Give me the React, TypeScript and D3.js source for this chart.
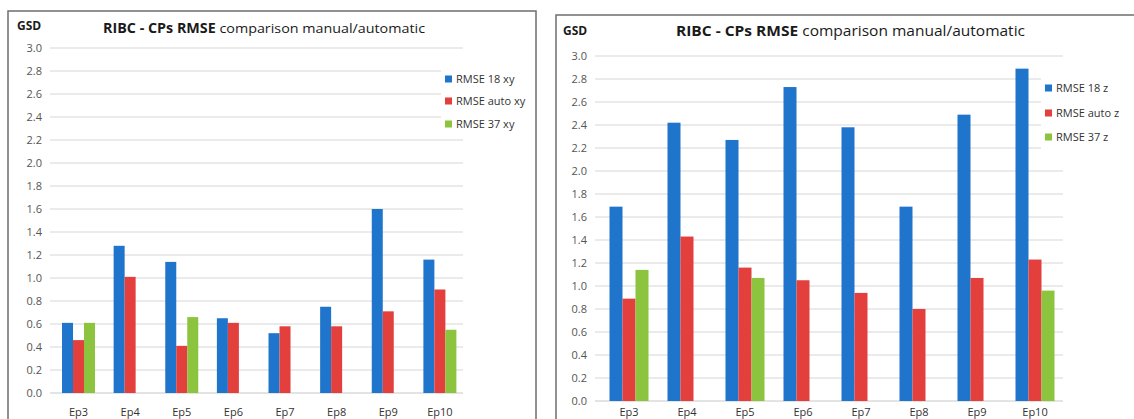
import React from "react";
import * as d3 from "d3";

const categories = ["Ep3", "Ep4", "Ep5", "Ep6", "Ep7", "Ep8", "Ep9", "Ep10"];
const yTicks = [0, 0.2, 0.4, 0.6, 0.8, 1.0, 1.2, 1.4, 1.6, 1.8, 2.0, 2.2, 2.4, 2.6, 2.8, 3.0];

// Left chart (xy)
const rmse18xy = [0.61, 1.28, 1.14, 0.65, 0.52, 0.75, 1.6, 1.16];
const rmseAutoXy = [0.46, 1.01, 0.41, 0.61, 0.58, 0.58, 0.71, 0.9];
const rmse37xy = [0.61, 0, 0.66, 0, 0, 0, 0, 0.55];
const legendXy = ["RMSE 18 xy", "RMSE auto xy", "RMSE 37 xy"];

// Right chart (z)
const rmse18z = [1.69, 2.42, 2.27, 2.73, 2.38, 1.69, 2.49, 2.89];
const rmseAutoZ = [0.89, 1.43, 1.16, 1.05, 0.94, 0.8, 1.07, 1.23];
const rmse37z = [1.14, 0, 1.07, 0, 0, 0, 0, 0.96];
const legendZ = ["RMSE 18 z", "RMSE auto z", "RMSE 37 z"];

const colors = ["#1f74cc", "#e23f3d", "#8cc43f"];
const FONT = "'Open Sans', 'Liberation Sans', sans-serif";

type ChartProps = {
  frame: { x: number; y: number; w: number; h: number };
  gsd: { x: number; y: number };
  title: { x: number; y: number; w: number; size: number };
  plot: { gx0: number; gx1: number; bx0: number; bx1: number; yTop: number; yBottom: number };
  barW: number;
  series: number[][];
  legend: string[];
  legendPos: { x: number; ys: number[] };
  labelY: number;
};

function Chart(p: ChartProps) {
  const x = d3.scaleBand<string>().domain(categories).range([p.plot.bx0, p.plot.bx1]);
  const y = d3.scaleLinear().domain([0, 3]).range([p.plot.yBottom, p.plot.yTop]);
  const groupW = p.barW * p.series.length;
  return (
    <g>
      <rect x={p.frame.x} y={p.frame.y} width={p.frame.w} height={p.frame.h} fill="#fff" stroke="#6e6e6e" strokeWidth={1.5} />
      <text x={p.gsd.x} y={p.gsd.y} fontFamily={FONT} fontWeight="bold" fontSize={12} fill="#1a1a1a">GSD</text>
      <text x={p.title.x} y={p.title.y} fontFamily={FONT} fontSize={p.title.size} fill="#1a1a1a" textLength={p.title.w} lengthAdjust="spacingAndGlyphs">
        <tspan fontWeight="bold">RIBC - CPs RMSE</tspan>
        <tspan> comparison manual/automatic</tspan>
      </text>
      {yTicks.map((t) => (
        <g key={t}>
          <line x1={p.plot.gx0} x2={p.plot.gx1} y1={y(t)} y2={y(t)} stroke={t === 0 ? "#c8c8c8" : "#d6d6d6"} strokeWidth={1} />
          <text x={p.plot.gx0 - 8} y={y(t)} dy="0.35em" textAnchor="end" fontFamily={FONT} fontSize={11} fill="#555">
            {d3.format(".1f")(t)}
          </text>
        </g>
      ))}
      {categories.map((c, i) => {
        const cx = (x(c) as number) + x.bandwidth() / 2;
        return (
          <g key={c}>
            {p.series.map((s, k) =>
              s[i] > 0 ? (
                <rect key={k} x={cx - groupW / 2 + k * p.barW} y={y(s[i])} width={p.barW} height={y(0) - y(s[i])} fill={colors[k]} />
              ) : null
            )}
            <text x={cx} y={p.labelY} textAnchor="middle" fontFamily={FONT} fontSize={11} fill="#333">{c}</text>
          </g>
        );
      })}
      <rect x={p.legendPos.x - 4} y={p.legendPos.ys[0] - 12} width={90} height={p.legendPos.ys[2] - p.legendPos.ys[0] + 24} fill="#fff" />
      {p.legend.map((l, k) => (
        <g key={l}>
          <rect x={p.legendPos.x} y={p.legendPos.ys[k] - 3.5} width={7} height={7} fill={colors[k]} />
          <text x={p.legendPos.x + 11} y={p.legendPos.ys[k]} dy="0.35em" fontFamily={FONT} fontSize={11} fill="#333">{l}</text>
        </g>
      ))}
    </g>
  );
}

export default function App() {
  return (
    <svg width={1134} height={419} style={{ position: "absolute", left: 0, top: 0, background: "#fff" }}>
      <Chart
        frame={{ x: 8, y: 11, w: 528, h: 420 }}
        gsd={{ x: 17, y: 30 }}
        title={{ x: 103, y: 33, w: 322, size: 13.5 }}
        plot={{ gx0: 50, gx1: 463, bx0: 52.7, bx1: 465.7, yTop: 48, yBottom: 393 }}
        barW={11}
        series={[rmse18xy, rmseAutoXy, rmse37xy]}
        legend={legendXy}
        legendPos={{ x: 445, ys: [79, 101, 124] }}
        labelY={416}
      />
      <Chart
        frame={{ x: 556, y: 15, w: 600, h: 420 }}
        gsd={{ x: 563, y: 35 }}
        title={{ x: 676, y: 36, w: 349, size: 14.5 }}
        plot={{ gx0: 595, gx1: 1063, bx0: 600, bx1: 1064, yTop: 56, yBottom: 401 }}
        barW={13}
        series={[rmse18z, rmseAutoZ, rmse37z]}
        legend={legendZ}
        legendPos={{ x: 1045, ys: [88, 113, 137] }}
        labelY={416}
      />
    </svg>
  );
}
